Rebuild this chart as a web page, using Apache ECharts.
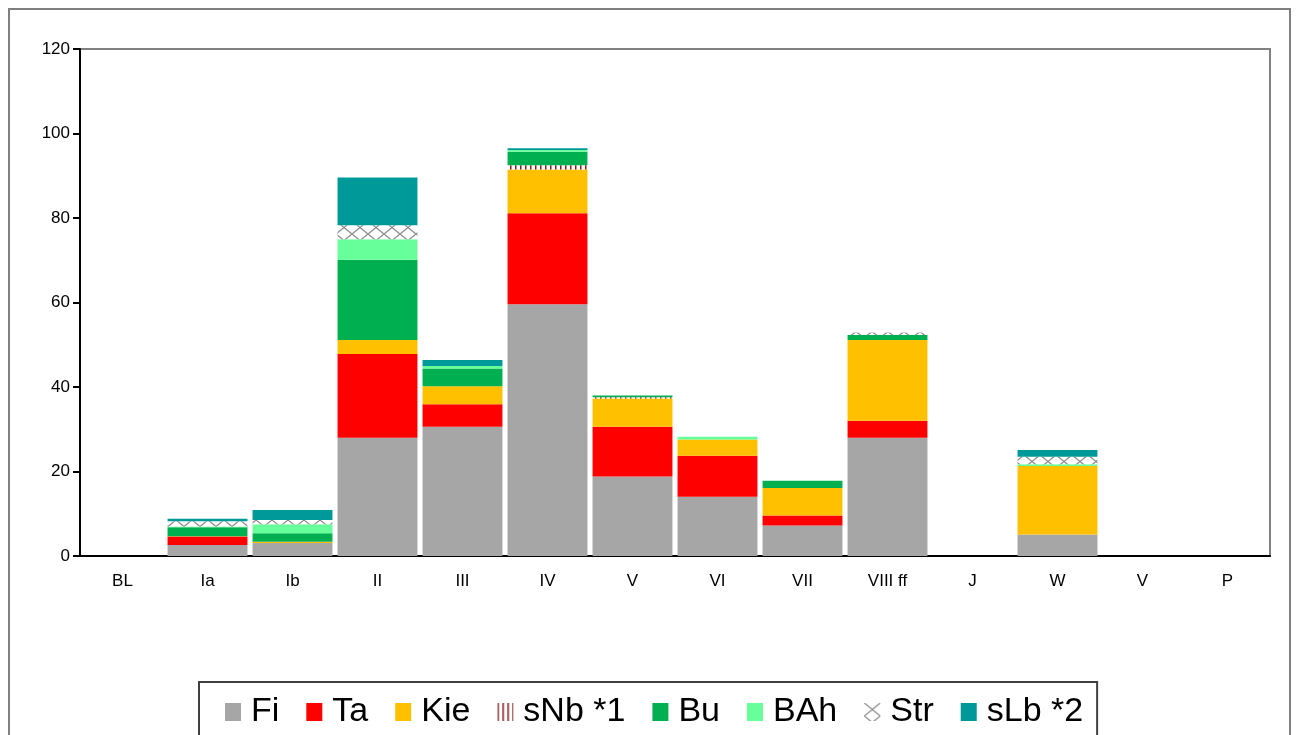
<!DOCTYPE html>
<html>
<head>
<meta charset="utf-8">
<script src="https://cdn.jsdelivr.net/npm/echarts@6/dist/echarts.min.js"></script>
<style>
  html, body { margin: 0; padding: 0; background: #fff; }
  #chart { width: 1298px; height: 735px; }
</style>
</head>
<body>
<div id="chart"></div>
<script>
// categories and stacked values
const categories = ['BL', 'Ia', 'Ib', 'II', 'III', 'IV', 'V', 'VI', 'VII', 'VIII ff', 'J', 'W', 'V', 'P'];
const fi  = [0, 2.6, 3.1, 28.0, 30.6, 59.6, 18.8, 14.0, 7.2, 28.0, 0, 5.1, 0, 0];
const ta  = [0, 2.0, 0, 19.8, 5.3, 21.5, 11.8, 9.7, 2.4, 4.0, 0, 0, 0, 0];
const kie = [0, 0.1, 0.3, 3.3, 4.3, 10.4, 6.7, 3.9, 6.5, 19.1, 0, 16.2, 0, 0];
const sNb = [0, 0, 0, 0, 0, 1.0, 0.3, 0, 0, 0, 0, 0, 0, 0];
const bu  = [0, 2.1, 2.0, 19.0, 4.2, 3.2, 0.4, 0, 1.7, 1.2, 0, 0, 0, 0];
const bah = [0, 0.2, 2.1, 4.9, 0.6, 0.4, 0, 0.6, 0, 0, 0, 0.4, 0, 0];
const str = [0, 1.2, 1.0, 3.3, 0, 0, 0, 0, 0, 0.6, 0, 1.8, 0, 0];
const sLb = [0, 0.6, 2.4, 11.3, 1.4, 0.4, 0, 0, 0, 0, 0, 1.6, 0, 0];
const yTicks = { min: 0, max: 120, interval: 20 };

// hatch patterns
function stripePattern() {
  const c = document.createElement('canvas');
  c.width = 5; c.height = 5;
  const ctx = c.getContext('2d');
  ctx.fillStyle = '#fff';
  ctx.fillRect(0, 0, 5, 5);
  ctx.fillStyle = '#8b1a1a';
  ctx.fillRect(0, 0, 1.5, 5);
  return c;
}
function crossPattern() {
  const c = document.createElement('canvas');
  c.width = 16; c.height = 13;
  const ctx = c.getContext('2d');
  ctx.fillStyle = '#fff';
  ctx.fillRect(0, 0, 16, 13);
  ctx.strokeStyle = '#8c8c8c';
  ctx.lineWidth = 1.3;
  ctx.beginPath();
  ctx.moveTo(0, 0); ctx.lineTo(16, 13);
  ctx.moveTo(16, 0); ctx.lineTo(0, 13);
  ctx.stroke();
  return c;
}

const font = '"Liberation Sans", Arial, sans-serif';

function bar(name, data, color) {
  return {
    name: name,
    type: 'bar',
    stack: 'total',
    barCategoryGap: '6%',
    itemStyle: { color: color },
    emphasis: { disabled: true },
    data: data
  };
}

let myChart = echarts.init(document.getElementById('chart'));
let option = {
  animation: false,
  textStyle: { fontFamily: font },
  graphic: [{
    type: 'rect',
    z: -10,
    shape: { x: 9, y: 9, width: 1281, height: 780 },
    style: { fill: '#fff', stroke: '#7f7f7f', lineWidth: 2 }
  }],
  grid: {
    left: 80, right: 28, top: 49, bottom: 179,
    show: true, borderColor: '#808080', borderWidth: 2
  },
  legend: {
    left: 199, top: 682,
    padding: [13, 14, 40, 26],
    itemGap: 27,
    icon: 'rect',
    itemWidth: 16, itemHeight: 18,
    borderColor: '#404040', borderWidth: 2,
    backgroundColor: '#fff',
    textStyle: { fontSize: 34, color: '#000', fontFamily: font, padding: [0, 0, 0, 5] },
    data: ['Fi', 'Ta', 'Kie', 'sNb *1', 'Bu', 'BAh', 'Str', 'sLb *2']
  },
  xAxis: {
    type: 'category',
    data: categories,
    axisLine: { lineStyle: { color: '#000', width: 2 } },
    axisTick: { length: 5, lineStyle: { color: '#000', width: 2 } },
    axisLabel: { fontSize: 17, color: '#000', margin: 17 }
  },
  yAxis: {
    type: 'value',
    min: yTicks.min, max: yTicks.max, interval: yTicks.interval,
    splitLine: { show: false },
    axisLine: { show: true, lineStyle: { color: '#000', width: 2 } },
    axisTick: { show: true, length: 7, lineStyle: { color: '#000', width: 2 } },
    axisLabel: { fontSize: 17, color: '#000', margin: 10 }
  },
  series: [
    bar('Fi', fi, '#a6a6a6'),
    bar('Ta', ta, '#ff0000'),
    bar('Kie', kie, '#ffc000'),
    bar('sNb *1', sNb, { image: stripePattern(), repeat: 'repeat' }),
    bar('Bu', bu, '#00b050'),
    bar('BAh', bah, '#66ff99'),
    bar('Str', str, { image: crossPattern(), repeat: 'repeat' }),
    bar('sLb *2', sLb, '#009999')
  ]
};
myChart.setOption(option);
</script>
</body>
</html>
